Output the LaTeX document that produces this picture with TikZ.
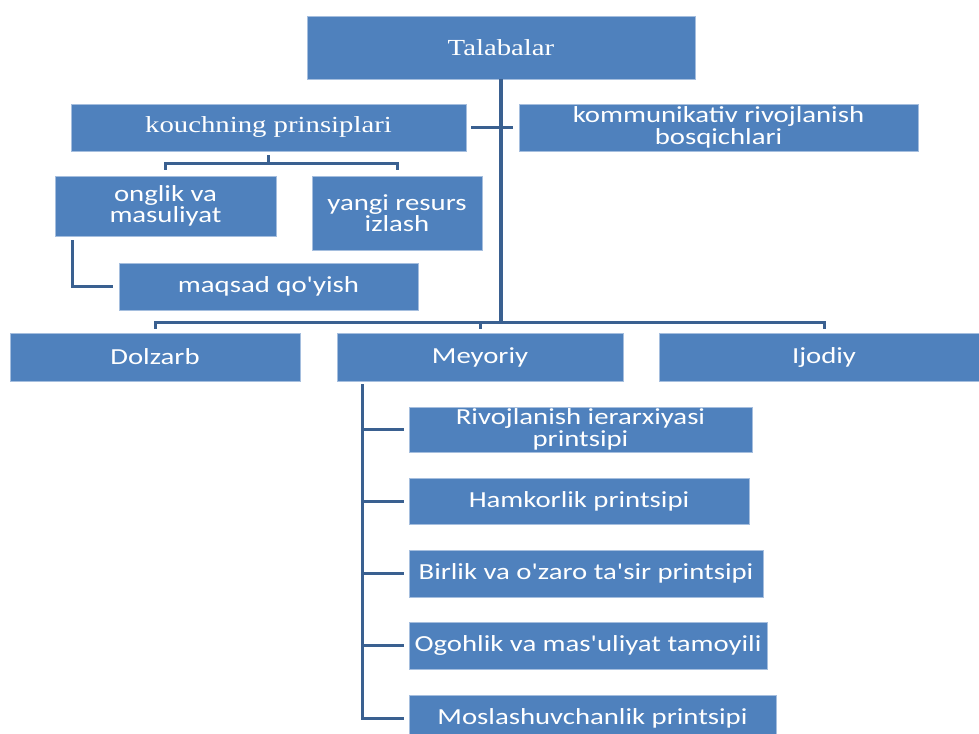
\documentclass[tikz,border=0pt]{standalone}
\usepackage{fontspec}
\setmainfont{Liberation Serif}
\newfontfamily\cambriafont[FakeStretch=1.25]{Liberation Serif}
\newfontfamily\calibrifont[FakeStretch=1.25]{Carlito}
\usepackage{tikz}
\definecolor{smblue}{RGB}{79,129,189}
\definecolor{smedge}{RGB}{165,190,222}
\definecolor{smline}{RGB}{58,96,144}

\begin{document}
\begin{tikzpicture}[
  x=1pt, y=-1pt,
  box/.style={rectangle, draw=smedge, line width=0.6pt, fill=smblue, text=white, align=center, inner sep=0pt, font=\calibrifont\fontsize{23}{21.5}\selectfont},
  headbox/.style={box, font=\cambriafont\fontsize{23}{21.5}\selectfont},
  link/.style={draw=smline, line width=3pt},
  trunk/.style={link, line width=4pt}
]
\useasboundingbox (0,0) rectangle (979,733);

% Top - students
\node[headbox, minimum width=388pt, minimum height=63pt] (talab) at (501,47.5) {Talabalar};

% Second row
\node[headbox, minimum width=395pt, minimum height=47pt] (kouch) at (268.5,127.5) {kouchning prinsiplari};
\node[box, minimum width=399pt, minimum height=47pt] (kommun) at (718.5,127.5) {kommunikativ rivojlanish\\bosqichlari};

% Coaching principles
\node[box, minimum width=221pt, minimum height=60pt] (ong) at (165.5,206) {onglik va\\masuliyat};
\node[box, minimum width=170pt, minimum height=74pt] (yangi) at (397,213) {yangi resurs\\izlash};
\node[box, minimum width=299pt, minimum height=47pt] (maqsad) at (268.5,286.5) {maqsad qo'yish};

% Third row
\node[box, minimum width=290pt, minimum height=48pt] (dolz) at (155,357) {Dolzarb};
\node[box, minimum width=286pt, minimum height=48pt] (mey) at (480,357) {Meyoriy};
\node[box, minimum width=330pt, minimum height=48pt] (ijod) at (824,357) {Ijodiy};

% Meyoriy - principles
\node[box, minimum width=343pt, minimum height=45pt] (m1) at (580.5,429.5) {Rivojlanish ierarxiyasi\\printsipi};
\node[box, minimum width=340pt, minimum height=46pt] (m2) at (579,501) {Hamkorlik printsipi};
\node[box, minimum width=354pt, minimum height=47pt] (m3) at (586,573.5) {Birlik va o'zaro ta'sir printsipi};
\node[box, minimum width=358pt, minimum height=47pt] (m4) at (588,645.5) {Ogohlik va mas'uliyat tamoyili};
\node[box, minimum width=367pt, minimum height=46pt] (m5) at (592.5,718) {Moslashuvchanlik printsipi};

% Helper points
\coordinate (hub) at (501,322);
\coordinate (kbar) at (268.5,163);
\coordinate (spine) at ([xshift=26pt]mey.south west);
\coordinate (ongleg) at ([xshift=18pt]ong.south west);

% Connectors
\draw[trunk] (talab.south) -- (hub);
\draw[link, shorten >=4pt] (hub) -| (dolz.north);
\draw[link, shorten >=4pt] (hub) -| (mey.north);
\draw[link, shorten >=4pt] (hub) -| (ijod.north);

\draw[link, shorten <=5pt, shorten >=6pt] (kouch.east) -- (kommun.west);
\draw[link, shorten <=4pt] (kouch.south) -- (kbar);
\draw[link, shorten >=6pt] (kbar) -| (ong.north);
\draw[link, shorten >=6pt] (kbar) -| (yangi.north);
\draw[link, shorten <=4pt, shorten >=6pt] (ongleg) |- (maqsad.west);

\draw[link, shorten <=3pt, shorten >=5pt] (spine) |- (m5.west);
\draw[link, shorten >=5pt] (spine |- m1.west) -- (m1.west);
\draw[link, shorten >=5pt] (spine |- m2.west) -- (m2.west);
\draw[link, shorten >=5pt] (spine |- m3.west) -- (m3.west);
\draw[link, shorten >=5pt] (spine |- m4.west) -- (m4.west);

\end{tikzpicture}
\end{document}
